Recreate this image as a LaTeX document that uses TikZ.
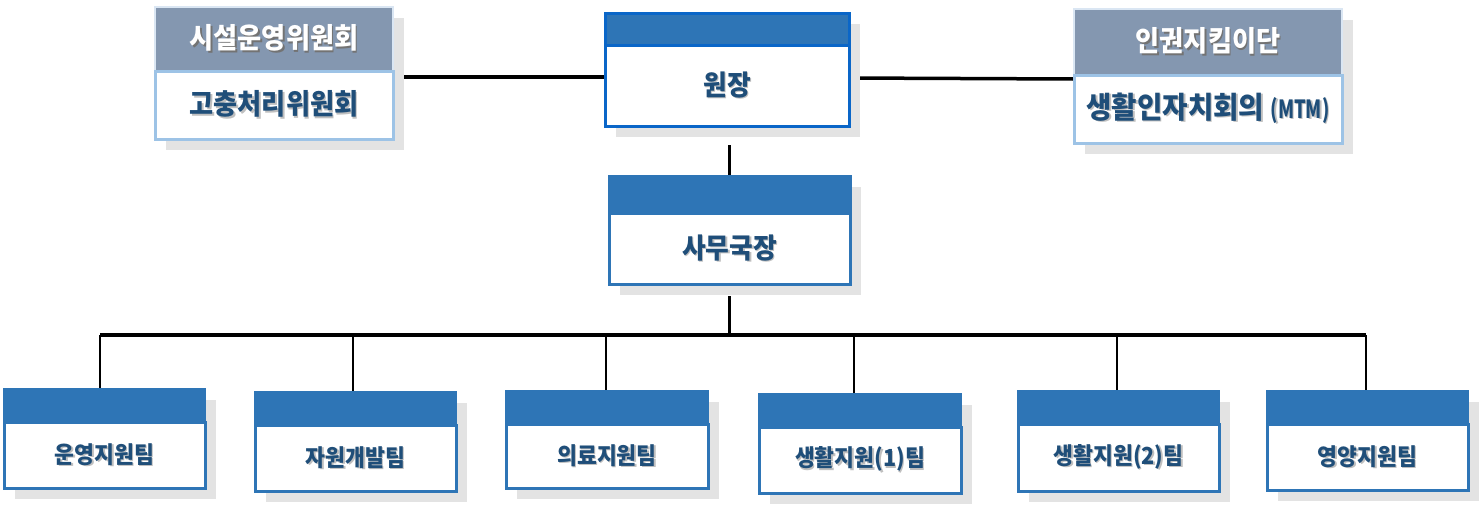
\documentclass[tikz,border=0pt]{standalone}
\usepackage{graphicx}
\usepackage{fontspec}
\setmainfont{Noto Sans CJK KR}[FakeStretch=0.92]
\usetikzlibrary{shadows,calc}
\pgfdeclarelayer{background}
\pgfsetlayers{background,main}
\definecolor{hdrblue}{HTML}{2E75B6}
\definecolor{topblue}{HTML}{0A66C8}
\definecolor{slate}{HTML}{8497B0}
\definecolor{lightb}{HTML}{9DC3E6}
\definecolor{paleb}{HTML}{DAE6F3}
\definecolor{navy}{HTML}{1F4E79}
\definecolor{shade}{HTML}{E3E3E3}
\newcommand\shd[2]{\rlap{\kern1.5pt\raisebox{-1.5pt}{\color{#1}#2}}#2}
\tikzset{
  base/.style={rectangle, inner sep=0pt, outer sep=0pt, anchor=north west,
    drop shadow={shadow xshift=11pt, shadow yshift=-11pt, fill=shade, opacity=1}},
  grouphdr/.style={base, fill=slate, draw=paleb, line width=2pt, text=white,
    font=\fontsize{28.5}{32}\selectfont\bfseries},
  groupbody/.style={base, fill=white, draw=lightb, line width=3pt, text=navy,
    font=\fontsize{28.5}{32}\selectfont\bfseries},
  mainhdr/.style={base, fill=hdrblue, draw=#1, line width=3pt},
  mainbody/.style={base, fill=white, draw=#1, line width=3pt, text=navy,
    font=\fontsize{28}{32}\selectfont\bfseries},
  teamhdr/.style={base, fill=hdrblue, draw=hdrblue, line width=2.5pt, minimum width=201pt, minimum height=33pt},
  teambody/.style={base, fill=white, draw=hdrblue, line width=3pt, minimum width=201pt, minimum height=66pt,
    text=navy, font=\fontsize{23.5}{28}\selectfont\bfseries},
  conn/.style={draw=black, line width=3.5pt},
  drop/.style={draw=black, line width=2.8pt},
}
\begin{document}
\begin{tikzpicture}[x=1pt,y=-1pt]
\useasboundingbox (0,0) rectangle (1482,507);
% left group
\node[grouphdr, minimum width=238pt, minimum height=64pt] (Lh) at (155,7) {\shd{black!55}{시설운영위원회}};
\node[groupbody, minimum width=238pt, minimum height=68pt] (L) at (155,71) {\shd{black!25}{고충처리위원회}};
% right group
\node[grouphdr, minimum width=268pt, minimum height=66pt] (Rh) at (1074,9) {\shd{black!55}{인권지킴이단}};
\node[groupbody, minimum width=268pt, minimum height=68pt] (R) at (1074,75) {\shd{black!25}{\fontsize{30}{32}\selectfont 생활인자치회의 {\fontsize{25}{28}\selectfont\scalebox{0.8}[1]{(MTM)}}}};
% director
\node[mainhdr=topblue, minimum width=244pt, minimum height=32pt] (Wh) at (605,13) {};
\node[mainbody=topblue, minimum width=244pt, minimum height=81pt] (W) at (605,45) {\shd{black!25}{원장}};
% secretary general
\node[mainhdr=hdrblue, minimum width=241pt, minimum height=37pt] (Sh) at (609,176) {};
\node[mainbody=hdrblue, minimum width=241pt, minimum height=71pt] (S) at (609,213) {\shd{black!25}{사무국장}};
% teams
\node[teamhdr] (B1h) at (4,389) {};
\node[teambody] (B1) at (4,422) {\shd{black!25}{운영지원팀}};
\node[teamhdr] (B2h) at (255,392) {};
\node[teambody] (B2) at (255,425) {\shd{black!25}{자원개발팀}};
\node[teamhdr, minimum width=202pt] (B3h) at (506,391) {};
\node[teambody, minimum width=202pt, minimum height=64pt] (B3) at (506,424) {\shd{black!25}{의료지원팀}};
\node[teamhdr, minimum width=202pt] (B4h) at (759,394) {};
\node[teambody, minimum width=202pt] (B4) at (759,427) {\shd{black!25}{생활지원(1)팀}};
\node[teamhdr] (B5h) at (1018,391) {};
\node[teambody, minimum height=67pt] (B5) at (1018,424) {\shd{black!25}{생활지원(2)팀}};
\node[teamhdr] (B6h) at (1267,391) {};
\node[teambody] (B6) at (1267,424) {\shd{black!25}{영양지원팀}};
% connector helper points
\coordinate (WB) at ([yshift=-19pt]W.south);
\coordinate (SB) at ([yshift=-12pt]S.south);
\coordinate (d1) at (100,335);
\coordinate (d2) at (353,335);
\coordinate (d3) at (606,335);
\coordinate (d4) at (854,335);
\coordinate (d5) at (1117,335);
\coordinate (d6) at (1366,335);
\begin{pgfonlayer}{background}
\draw[conn] ([yshift=-6pt]Lh.south east) -- ([yshift=8.5pt]W.west);
\draw[conn] ([yshift=7.5pt]W.east) -- ([yshift=-4pt]Rh.south west);
\draw[conn] (Sh.north) -- (Sh.north |- WB);
\draw[conn] (SB -| Sh.north) -- (d3 -| Sh.north);
\draw[conn, line width=3.8pt] (d1) -- (d6);
\draw[drop] (d1) -- (d1 |- B1h.north);
\draw[drop] (d2) -- (d2 |- B2h.north);
\draw[drop] (d3) -- (d3 |- B3h.north);
\draw[drop] (d4) -- (d4 |- B4h.north);
\draw[drop] (d5) -- (d5 |- B5h.north);
\draw[drop] (d6) -- (d6 |- B6h.north);
\end{pgfonlayer}
\end{tikzpicture}
\end{document}
